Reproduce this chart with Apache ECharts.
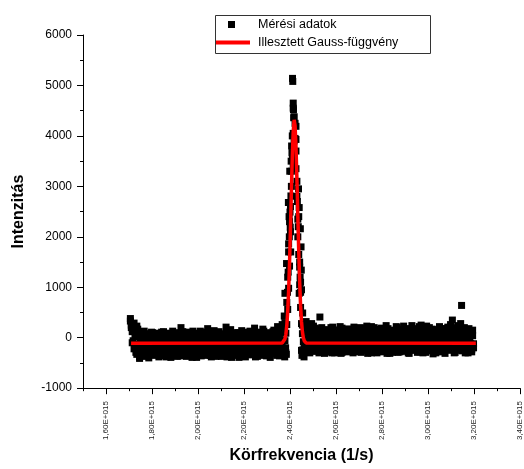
<!DOCTYPE html>
<html>
<head>
<meta charset="utf-8">
<script src="https://cdn.jsdelivr.net/npm/echarts@6/dist/echarts.min.js"></script>
<style>html,body{margin:0;padding:0;background:#fff}#c{width:524px;height:469px}</style>
</head>
<body>
<div id="c"></div>
<script>
// x values in units of 1E+012 (thousandths of 1E+015)
const bandX = [
1706,1710,1714,1718,1722,1726,1730,1734,1738,1742,1746,1750,
1754,1758,1762,1766,1770,1774,1778,1782,1786,1790,1794,1798,
1802,1806,1810,1814,1818,1822,1826,1830,1834,1838,1842,1846,
1850,1854,1858,1862,1866,1870,1874,1878,1882,1886,1890,1894,
1898,1902,1906,1910,1914,1918,1922,1926,1930,1934,1938,1942,
1946,1950,1954,1958,1962,1966,1970,1974,1978,1982,1986,1990,
1994,1998,2002,2006,2010,2014,2018,2022,2026,2030,2034,2038,
2042,2046,2050,2054,2058,2062,2066,2070,2074,2078,2082,2086,
2090,2094,2098,2102,2106,2110,2114,2118,2122,2126,2130,2134,
2138,2142,2146,2150,2154,2158,2162,2166,2170,2174,2178,2182,
2186,2190,2194,2198,2202,2206,2210,2214,2218,2222,2226,2230,
2234,2238,2242,2246,2250,2254,2258,2262,2266,2270,2274,2278,
2282,2286,2290,2294,2298,2302,2306,2310,2314,2318,2322,2326,
2330,2334,2338,2342,2346,2350,2354,2358,2362,2366,2370,2374,
2378,2382,2386,2390,2394,2398,2402,2406,2410,2414,2418,2422,2426,2430,2434,2438,2442,2446,2450,2454,2458,
2462,2466,2470,2474,2478,2482,2486,2490,2494,2498,2502,2506,
2510,2514,2518,2522,2526,2530,2534,2538,2542,2546,2550,2554,
2558,2562,2566,2570,2574,2578,2582,2586,2590,2594,2598,2602,
2606,2610,2614,2618,2622,2626,2630,2634,2638,2642,2646,2650,
2654,2658,2662,2666,2670,2674,2678,2682,2686,2690,2694,2698,
2702,2706,2710,2714,2718,2722,2726,2730,2734,2738,2742,2746,
2750,2754,2758,2762,2766,2770,2774,2778,2782,2786,2790,2794,
2798,2802,2806,2810,2814,2818,2822,2826,2830,2834,2838,2842,
2846,2850,2854,2858,2862,2866,2870,2874,2878,2882,2886,2890,
2894,2898,2902,2906,2910,2914,2918,2922,2926,2930,2934,2938,
2942,2946,2950,2954,2958,2962,2966,2970,2974,2978,2982,2986,
2990,2994,2998,3002,3006,3010,3014,3018,3022,3026,3030,3034,
3038,3042,3046,3050,3054,3058,3062,3066,3070,3074,3078,3082,
3086,3090,3094,3098,3102,3106,3110,3114,3118,3122,3126,3130,
3134,3138,3142,3146,3150,3154,3158,3162,3166,3170,3174,3178,
3182,3186,3190,3194,3198
];
// first reading at each frequency
const bandY = [
380,250,120,-60,290,-170,60,-330,170,-250,-410,40,
-120,-290,100,-200,-20,-370,70,-150,-310,10,-230,110,
-80,-350,30,-190,-270,90,-40,-380,-130,50,-300,-210,
120,-60,-340,-160,20,-280,80,-110,-390,-20,-240,60,
-170,-320,100,-90,-260,-10,-360,200,-140,-300,40,-200,
-50,-370,90,-230,-120,10,-330,-180,130,-70,-280,30,
-390,-150,70,-250,-30,-310,110,-190,-90,-350,50,-220,
180,-120,-300,0,-380,-170,90,-260,-60,40,-340,-140,
120,-210,-20,-370,-100,60,-290,-180,210,-50,-320,-240,
80,-130,-390,20,-270,-80,100,-350,-190,50,-30,-310,
-160,140,-250,-370,-10,-110,70,-290,-200,30,-340,-70,
110,-230,-140,190,-380,-40,-300,60,-170,-260,20,-350,
-90,130,-210,-330,-20,80,-280,-150,-390,40,-60,-240,
150,-120,-310,10,220,-200,-360,100,-50,260,-280,170,
-60,90,260,560,980,1420,2100,3000,3650,4050,4380,4250,3700,3100,2350,1650,1050,600,280,80,-80,
150,-250,320,-60,-290,240,40,-180,280,-120,-270,190,
60,-210,-10,130,-300,410,-100,200,-240,20,-160,110,
-280,-40,160,-200,70,-120,-300,210,-60,-230,100,-10,
-270,150,-150,40,-310,190,-90,-220,90,-30,-280,170,
-130,0,-250,130,-70,-300,210,30,-190,-100,120,-260,
60,-40,-290,180,-160,10,-230,140,-80,-310,90,-20,
-200,220,-120,-270,50,-50,160,-300,-170,100,0,-240,
190,-90,-280,70,-140,240,-30,-220,120,-310,30,-180,
150,-60,-260,80,-120,200,-290,-10,110,-200,40,-150,
230,-270,-80,140,-200,20,-310,170,-110,-40,90,-250,
180,-150,0,-290,120,-60,-220,250,-10,-300,70,-170,
130,-100,-260,30,200,-200,-40,100,-320,-130,160,10,
-240,80,-90,220,-280,-20,140,-180,50,-310,180,-110,
0,-250,110,260,-150,350,-60,200,-290,90,-200,240,
-100,30,280,640,-240,150,-40,-300,100,-170,60,-260,
130,-120,-280,40,-200
];
// second reading at each frequency
const bandY2 = [
330,200,-100,150,-220,20,-290,230,-130,80,-380,-30,
60,-260,-160,130,-340,-60,30,-210,-400,80,-120,-290,
100,-180,-320,-10,50,-240,-140,70,-360,-60,110,-270,
-200,-30,30,-380,-110,90,-230,-310,0,-160,130,-350,
40,-70,-230,-370,60,-150,20,-280,-40,120,-340,-120,
-250,110,-20,-310,-170,70,-80,-390,40,-220,-120,90,
-300,20,-200,-110,130,-360,-60,60,-270,-170,10,-320,
-40,100,-230,-350,50,-90,-300,140,-180,-370,-10,70,
-260,-60,80,-150,-330,30,-220,-20,120,-380,-110,20,
-290,160,-60,-200,-340,40,-140,-20,-270,100,-390,-90,
30,-310,-70,110,-220,-380,60,-30,-150,-330,130,-240,
-20,70,-300,-120,40,-210,-370,110,-60,-180,-300,80,
170,-160,-40,60,-360,-250,20,100,-110,-300,-190,120,
-230,40,-80,-350,-150,70,-20,-260,190,-140,120,240,
300,-300,700,1200,1700,2300,2600,3300,4000,4550,3900,3950,3350,2800,2000,2400,1400,900,-250,250,-300,
-180,260,-40,120,-230,60,-300,170,-80,20,230,-150,
-260,100,-60,-200,180,0,-280,90,-130,150,-310,40,
120,-170,-260,30,-90,200,-20,-160,60,-300,150,-220,
80,-50,-200,220,-130,-290,20,130,-240,-70,60,-150,
170,-260,-30,70,-180,110,-110,-280,150,-20,-220,40,
-150,200,-100,-20,100,-250,50,-190,230,-130,-40,150,
80,-300,-10,-150,200,-220,40,110,-90,-260,170,-40,
-160,60,150,-250,-30,90,-310,180,-90,0,-200,120,
-290,30,140,-180,220,-80,60,-150,-280,170,-50,80,
-120,90,-230,-20,180,-300,130,-60,-170,240,-10,60,
-240,40,-180,130,-90,220,-280,-40,100,-140,170,-20,
-290,230,60,-150,-90,120,-250,170,30,-200,-60,-300,
150,-160,40,-270,110,-100,180,-230,-20,100,-160,20,
210,-80,-220,60,170,-180,-20,-300,120,-90,50,-250,
170,-150,-60,120,-260,50,200,-110,-200,30,-300,180,
-60,100,-230,150,-120
];
// additional measured points around the peak
const peakX = [2375,2378,2385,2393,2394,2400,2401,2404,2409,2411,2411,2412,2414,2415,2414,2416,2426,2426,2440,2445,2448,2449,2440,2455,2477,
2372,2377,2381,2384,2452,2456,2461,2465,2399,2403,2397,2437,2442,2450,2446,
2389,2392,2396,2405,2407,2432,2436,2444];
const peakY = [430,880,1470,2680,1860,2490,2190,2810,3670,3530,5140,5080,4650,4520,3400,4360,4190,3930,2580,2160,1800,1340,880,490,230,
-300,-380,-200,-330,-350,-240,-380,-150,3300,1700,2000,2950,1500,950,1100,
900,1300,2400,3500,3800,2700,2200,1200];
// fitted Gaussian curve
const fitX = [1709,2366,2374,2378,2382,2386,2390,2394,2398,2402,2406,2410,2414,2418,2422,2426,2430,2434,2438,2442,2446,2450,2454,2458,2462,2470,3208];
const fitY = [-112,-106,-74,-26,68,236,513,927,1487,2171,2906,3588,4091,4318,4204,3790,3158,2427,1715,1106,641,319,117,1,-61,-104,-112];
const xMajorTicks = [1600,1800,2000,2200,2400,2600,2800,3000,3200,3400];
const xMinorTicks = [1500,1700,1900,2100,2300,2500,2700,2900,3100,3300];
const seriesNames = ['Mérési adatok','Illesztett Gauss-függvény'];

const FONT = 'Liberation Sans, Arial, Helvetica, sans-serif';
const scatterData = bandX.map((x,i)=>[x,bandY[i]])
  .concat(bandX.map((x,i)=>[x,bandY2[i]]))
  .concat(peakX.map((x,i)=>[x,peakY[i]]));
const fitData = fitX.map((x,i)=>[x,fitY[i]]);

const chart = echarts.init(document.getElementById('c'), null, {renderer:'canvas'});
chart.setOption({
  animation:false,
  textStyle:{fontFamily:FONT},
  grid:{left:83,right:2,top:35,bottom:77,containLabel:false},
  xAxis:[{
    type:'value',min:1500,max:3400,
    name:'Körfrekvencia (1/s)',nameLocation:'middle',nameGap:56,
    nameTextStyle:{fontSize:16,fontWeight:'bold',color:'#000',fontFamily:FONT},
    axisLine:{show:true,onZero:false,lineStyle:{color:'#000',width:1}},
    axisTick:{show:true,length:6,customValues:xMajorTicks,lineStyle:{color:'#000'}},
    axisLabel:{customValues:xMajorTicks,rotate:90,fontSize:8,color:'#222',margin:13,fontFamily:FONT,
      formatter:v=>(v/1000).toFixed(2).replace('.',',')+'E+015'},
    splitLine:{show:false}
  },{
    type:'value',min:1500,max:3400,position:'bottom',
    axisLine:{show:false,onZero:false},
    axisTick:{show:true,length:3,customValues:xMinorTicks,lineStyle:{color:'#000'}},
    axisLabel:{show:false},splitLine:{show:false}
  }],
  yAxis:{
    type:'value',min:-1000,max:6000,interval:1000,
    name:'Intenzitás',nameLocation:'middle',nameGap:56,
    nameTextStyle:{fontSize:16,fontWeight:'bold',color:'#000',fontFamily:FONT},
    axisLine:{show:true,onZero:false,lineStyle:{color:'#000',width:1}},
    axisTick:{show:true,length:6,lineStyle:{color:'#000'}},
    minorTick:{show:true,splitNumber:2,length:3,lineStyle:{color:'#000'}},
    axisLabel:{fontSize:12,color:'#000',margin:11,fontFamily:FONT,formatter:v=>String(v)},
    splitLine:{show:false},minorSplitLine:{show:false}
  },
  legend:[{
    data:[seriesNames[0]],left:228,top:18,padding:0,itemWidth:7,itemHeight:7,icon:'rect',selectedMode:false,
    textStyle:{fontSize:12.5,color:'#000',fontFamily:FONT,padding:[0,0,0,18]}
  },{
    data:[seriesNames[1]],left:215,top:36,padding:0,itemWidth:35,itemHeight:4,icon:'rect',selectedMode:false,
    textStyle:{fontSize:12.5,color:'#000',fontFamily:FONT,padding:[0,0,0,3]}
  }],
  graphic:[{type:'rect',silent:true,z:100,shape:{x:215.5,y:15.5,width:215,height:38},style:{fill:'none',stroke:'#333',lineWidth:1}}],
  series:[{
    name:seriesNames[0],type:'scatter',xAxisIndex:0,data:scatterData,
    symbol:'rect',symbolSize:7,itemStyle:{color:'#000',opacity:1},z:2
  },{
    name:seriesNames[1],type:'line',xAxisIndex:0,data:fitData,
    symbol:'none',lineStyle:{color:'#ff0000',width:3.5},itemStyle:{color:'#ff0000'},z:3
  }]
});
</script>
</body>
</html>
